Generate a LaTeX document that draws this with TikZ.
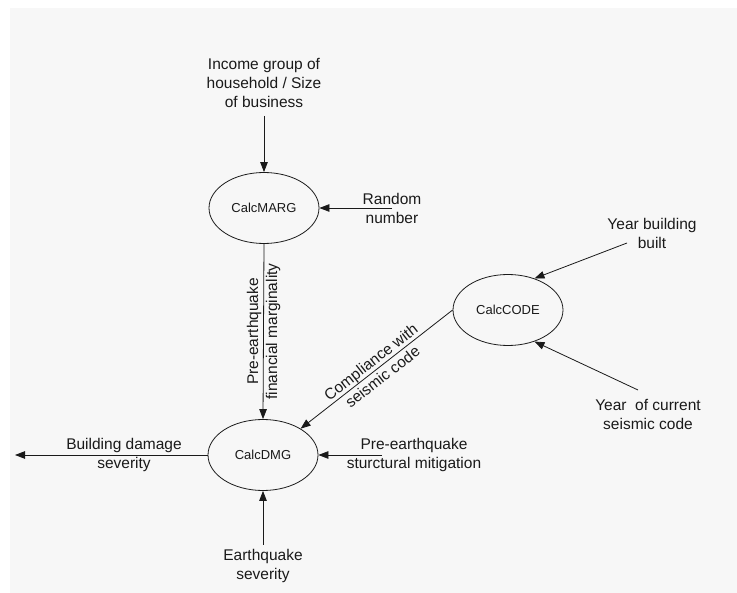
\documentclass[tikz,border=0pt]{standalone}
\usepackage{fontspec}
\setmainfont{Liberation Sans}
\usetikzlibrary{arrows.meta,shapes.geometric}
\definecolor{bgcol}{HTML}{F7F7F7}
\definecolor{inkcol}{HTML}{1A1A1A}
\tikzset{
  proc/.style={ellipse, draw=inkcol, line width=0.8pt, minimum width=110pt, minimum height=71pt, inner sep=0pt, font=\fontsize{13}{15}\selectfont, text=inkcol},
  lbl/.style={align=center, inner sep=2pt, font=\fontsize{15.5}{19}\selectfont, text=inkcol},
  arr/.style={draw=inkcol, line width=0.8pt, -{Triangle[length=10pt,width=7.5pt]}},
}
\begin{document}
\begin{tikzpicture}[x=1pt,y=-1pt]
\useasboundingbox (0,0) rectangle (737,593);
\fill[bgcol] (10,8) rectangle (737,593);

% processes
\node[proc] (marg) at (264,208) {CalcMARG};
\node[proc] (dmg) at (263,455) {CalcDMG};
\node[proc] (code) at (508,310) {CalcCODE};

% labels
\node[lbl] (income) at (264,83) {Income group of\\household / Size\\of business};
\node[lbl] (random) at (392,208) {Random\\number};
\node[lbl] (ybuilt) at (652,233) {Year building\\built};
\node[lbl] (ycode) at (648,414) {Year~ of current\\seismic code};
\node[lbl] (bdmg) at (124,455) {Building damage\\severity};
\node[lbl] (mitig) at (414,455) {Pre-earthquake\\sturctural mitigation};
\node[lbl] (eqsev) at (263,566) {Earthquake\\severity};

% free ends
\coordinate (incomeEnd) at (264,116);
\coordinate (ybuiltEnd) at (627,243);
\coordinate (ycodeEnd) at (638,390);
\coordinate (mitigEnd) at (382,455);
\coordinate (bdmgEnd) at (15,455);
\coordinate (eqsevEnd) at (263,545);

% connectors
\draw[arr] (incomeEnd) -- (marg.north);
\draw[arr] (random.center) -- (marg.east);
\draw[arr] (ybuiltEnd) -- (code.50);
\draw[arr] (ycodeEnd) -- (code.-50);
\draw[arr] (mitigEnd) -- (dmg.east);
\draw[arr] (eqsevEnd) -- (dmg.south);
\draw[arr] (dmg.west) -- (bdmgEnd);
\draw[arr] (marg.south) -- node[lbl, rotate=90] {Pre-earthquake\\financial marginality} (dmg.north);
\draw[arr] (code.west) -- node[lbl, sloped] {Compliance with\\seismic code} (dmg.35);
\end{tikzpicture}
\end{document}
